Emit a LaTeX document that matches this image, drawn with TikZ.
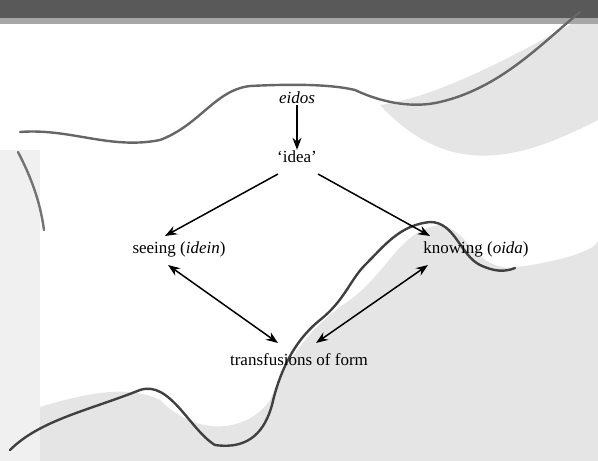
\documentclass[tikz,border=0pt]{standalone}
\usepackage{fontspec}
\setmainfont{Liberation Serif}
\usetikzlibrary{arrows.meta}
\begin{document}
\begin{tikzpicture}[x=1pt,y=-1pt,
  lbl/.style={font=\fontsize{17}{20}\selectfont, inner sep=1pt},
  arr/.style={-{Stealth[length=12pt,width=9pt]}, line width=1.5pt},
  darr/.style={{Stealth[length=12pt,width=9pt]}-{Stealth[length=12pt,width=9pt]}, line width=1.5pt},
  wave/.style={draw=black!70, line width=2.4pt, line cap=round},
  shade/.style={fill=black!10, draw=none}]
\useasboundingbox (0,0) rectangle (598,461);
\fill[white] (0,0) rectangle (598,461);
% screened background regions
\fill[shade] (380,105) .. controls (450,95) and (540,40) .. (598,10) -- (598,461) -- (0,461) -- (0,420)
  .. controls (60,400) and (120,380) .. (160,400) .. controls (200,440) and (250,430) .. (270,400)
  .. controls (290,350) and (320,320) .. (350,300) .. controls (390,270) and (400,230) .. (440,225)
  .. controls (470,230) and (470,265) .. (510,268) .. controls (560,262) and (598,250) .. (598,240)
  -- (598,120) .. controls (520,160) and (450,180) .. (380,105) -- cycle;
\fill[black!6] (0,150) rectangle (40,461);
% top dark band
\fill[black!65] (0,0) rectangle (598,18);
\fill[black!35] (0,18) rectangle (598,24);
% wavy outlines
\draw[wave, draw=black!60] (20,132) .. controls (70,128) and (110,150) .. (160,140)
  .. controls (200,125) and (215,90) .. (250,86) .. controls (290,84) and (330,84) .. (355,90)
  .. controls (385,104) and (415,108) .. (440,102) .. controls (500,88) and (540,45) .. (580,12);
\draw[wave, draw=black!55] (18,152) .. controls (30,175) and (40,200) .. (44,230);
\draw[wave, draw=black!75] (10,450) .. controls (40,420) and (90,410) .. (140,390)
  .. controls (170,380) and (190,430) .. (215,445) .. controls (250,450) and (265,430) .. (272,405)
  .. controls (280,370) and (295,340) .. (320,320) .. controls (345,300) and (350,280) .. (365,265)
  .. controls (385,245) and (400,225) .. (430,222) .. controls (455,222) and (460,255) .. (480,265)
  .. controls (495,272) and (505,272) .. (515,268);
% nodes
\node[lbl] (eidos) at (297,98) {\textit{eidos}};
\node[lbl] (idea) at (297,157) {‘idea’};
\node[lbl] (seeing) at (179,249) {seeing (\textit{idein})};
\node[lbl] (knowing) at (476,249) {knowing (\textit{oida})};
\node[lbl] (trans) at (299,360) {transfusions of form};
% connectors
\draw[arr] (eidos) -- (idea);
\draw[arr] ([shift={(-19,17)}]idea.center) -- ([shift={(-14,-13)}]seeing.center);
\draw[arr] ([shift={(21,17)}]idea.center) -- ([shift={(-46,-13)}]knowing.center);
\draw[darr] ([shift={(-11,16)}]seeing.center) -- ([shift={(-21,-17)}]trans.center);
\draw[darr] ([shift={(-48,16)}]knowing.center) -- ([shift={(17,-17)}]trans.center);
\end{tikzpicture}
\end{document}
